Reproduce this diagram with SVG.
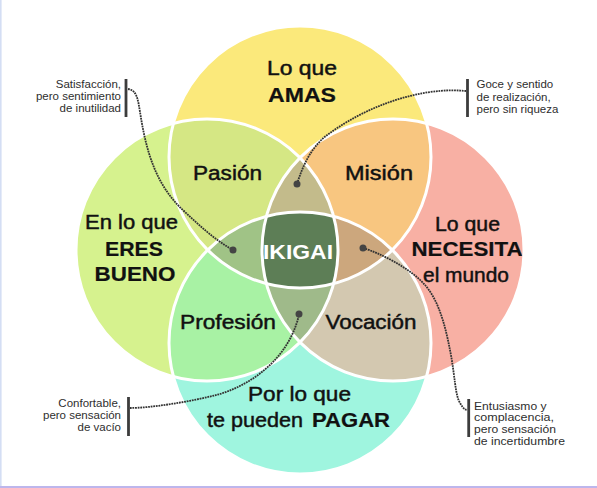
<svg xmlns="http://www.w3.org/2000/svg" width="597" height="488" viewBox="0 0 597 488">
<style>
.lbl{font-family:"Liberation Sans",Arial,sans-serif;font-size:20px;fill:#111;stroke:#111;stroke-width:0.45;text-anchor:middle}
.bold{font-weight:bold;stroke-width:0.2}
.ik{font-family:"Liberation Sans",Arial,sans-serif;font-size:21px;font-weight:bold;fill:#fff;text-anchor:middle}
.note{font-family:"Liberation Sans",Arial,sans-serif;font-size:11.5px;fill:#2e2e2e}
.sm{font-size:10.5px}
.bar{stroke:#3c3c3c;stroke-width:2.8}
.conn{fill:none;stroke:#333;stroke-width:1.8;stroke-dasharray:1.8 0.8}
.dot{fill:#444}
.ring{fill:none;stroke:#fff;stroke-width:3}
</style>
<defs>
<clipPath id="cT"><circle cx="300" cy="157" r="131"/></clipPath>
<clipPath id="cL"><circle cx="207" cy="250" r="131"/></clipPath>
<clipPath id="cR"><circle cx="393" cy="250" r="131"/></clipPath>
<clipPath id="cB"><circle cx="300" cy="343" r="131"/></clipPath>
</defs>
<rect width="597" height="488" fill="#fff"/>
<line x1="0.8" y1="0" x2="0.8" y2="488" stroke="#d4def4" stroke-width="1.6"/>
<line x1="0" y1="487" x2="597" y2="487" stroke="#bdb6ec" stroke-width="2"/>

<g id="love">
<circle cx="300" cy="157" r="131" fill="#fbe97b"/>
<text class="lbl" x="302" y="75" textLength="70" lengthAdjust="spacingAndGlyphs">Lo que</text>
<text class="lbl bold" x="302" y="102" textLength="68" lengthAdjust="spacingAndGlyphs">AMAS</text>
</g>
<g id="good">
<circle cx="207" cy="250" r="131" fill="#d6f28e"/>
<text class="lbl" x="131.5" y="229" textLength="93" lengthAdjust="spacingAndGlyphs">En lo que</text>
<text class="lbl bold" x="134" y="256" textLength="58" lengthAdjust="spacingAndGlyphs">ERES</text>
<text class="lbl bold" x="135" y="281" textLength="81" lengthAdjust="spacingAndGlyphs">BUENO</text>
</g>
<g id="needs">
<circle cx="393" cy="250" r="131" fill="#f8b0a4"/>
<text class="lbl" x="467.5" y="231" textLength="65" lengthAdjust="spacingAndGlyphs">Lo que</text>
<text class="lbl bold" x="467" y="256" textLength="111" lengthAdjust="spacingAndGlyphs">NECESITA</text>
<text class="lbl" x="466" y="282" textLength="86" lengthAdjust="spacingAndGlyphs">el mundo</text>
</g>
<g id="paid">
<circle cx="300" cy="343" r="131" fill="#9ff5df"/>
<text class="lbl" x="299.5" y="401" textLength="103" lengthAdjust="spacingAndGlyphs">Por lo que</text>
<text class="lbl" x="207" y="427" style="text-anchor:start" textLength="96" lengthAdjust="spacingAndGlyphs">te pueden</text>
<text class="lbl bold" x="312" y="427" style="text-anchor:start" textLength="78" lengthAdjust="spacingAndGlyphs">PAGAR</text>
</g>

<g id="pasion">
<circle cx="207" cy="250" r="131" fill="#d5e784" clip-path="url(#cT)"/>
<text class="lbl" x="227.5" y="180" textLength="69" lengthAdjust="spacingAndGlyphs">Pasión</text>
</g>
<g id="mision">
<circle cx="393" cy="250" r="131" fill="#f8c680" clip-path="url(#cT)"/>
<text class="lbl" x="379" y="180" textLength="68" lengthAdjust="spacingAndGlyphs">Misión</text>
</g>
<g id="profesion">
<circle cx="207" cy="250" r="131" fill="#a8f2a4" clip-path="url(#cB)"/>
<text class="lbl" x="228" y="329" textLength="96" lengthAdjust="spacingAndGlyphs">Profesión</text>
</g>
<g id="vocacion">
<circle cx="393" cy="250" r="131" fill="#d3c8b0" clip-path="url(#cB)"/>
<text class="lbl" x="371" y="329" textLength="91" lengthAdjust="spacingAndGlyphs">Vocación</text>
</g>

<g id="lens-top" clip-path="url(#cT)"><g clip-path="url(#cL)"><circle cx="393" cy="250" r="131" fill="#c3bb8b"/></g></g>
<g id="lens-left" clip-path="url(#cT)"><g clip-path="url(#cL)"><circle cx="300" cy="343" r="131" fill="#a0c386"/></g></g>
<g id="lens-right" clip-path="url(#cT)"><g clip-path="url(#cR)"><circle cx="300" cy="343" r="131" fill="#cca77d"/></g></g>
<g id="lens-bottom" clip-path="url(#cL)"><g clip-path="url(#cR)"><circle cx="300" cy="343" r="131" fill="#9fba8a"/></g></g>
<g id="ikigai">
<g clip-path="url(#cT)"><g clip-path="url(#cL)"><g clip-path="url(#cR)"><circle cx="300" cy="343" r="131" fill="#5d7e56"/></g></g></g>
</g>

<g id="outlines">
<circle class="ring" cx="300" cy="157" r="131"/>
<circle class="ring" cx="207" cy="250" r="131"/>
<circle class="ring" cx="393" cy="250" r="131"/>
<circle class="ring" cx="300" cy="343" r="131"/>
</g>
<g id="ikigai-label"><text class="ik" x="298" y="259" textLength="70" lengthAdjust="spacingAndGlyphs">IKIGAI</text></g>

<g id="note-tl">
<line class="bar" x1="126" y1="79" x2="126" y2="117"/>
<text class="note" x="121" y="87.5" text-anchor="end">Satisfacción,</text>
<text class="note" x="121" y="99.7" text-anchor="end">pero sentimiento</text>
<text class="note" x="121" y="111.9" text-anchor="end">de inutilidad</text>
</g>
<g id="note-tr">
<line class="bar" x1="467.5" y1="79" x2="467.5" y2="117"/>
<text class="note" x="476.5" y="88.3">Goce y sentido</text>
<text class="note" x="476.5" y="100.5">de realización,</text>
<text class="note" x="476.5" y="112.7">pero sin riqueza</text>
</g>
<g id="note-bl">
<line class="bar" x1="128.5" y1="397" x2="128.5" y2="436"/>
<text class="note" x="121" y="407.3" text-anchor="end">Confortable,</text>
<text class="note" x="121" y="419.3" text-anchor="end">pero sensación</text>
<text class="note" x="121" y="431" text-anchor="end">de vacío</text>
</g>
<g id="note-br">
<line class="bar" x1="468.7" y1="399" x2="468.7" y2="437"/>
<text class="note sm" x="474" y="409.5" textLength="72.5" lengthAdjust="spacingAndGlyphs">Entusiasmo y</text>
<text class="note sm" x="474" y="421.3" textLength="80" lengthAdjust="spacingAndGlyphs">complacencia,</text>
<text class="note sm" x="474" y="433.1" textLength="82" lengthAdjust="spacingAndGlyphs">pero sensación</text>
<text class="note sm" x="474" y="444.9" textLength="91" lengthAdjust="spacingAndGlyphs">de incertidumbre</text>
</g>

<g id="connectors">
<path class="conn" d="M128,89 C137,90 138,100 140,112 C146,150 155,185 185,212 C200,226 215,240 233,250"/>
<circle class="dot" cx="233" cy="250" r="3.5"/>
<path class="conn" d="M297,184 C303,165 312,145 330,133 C355,115 390,98 430,92 C445,90 455,90 466,91"/>
<circle class="dot" cx="297" cy="184" r="3.5"/>
<path class="conn" d="M130,408 C150,408 190,402 220,394 C255,383 280,360 292,335 C296,326 298,320 299,314"/>
<circle class="dot" cx="299" cy="314" r="3.5"/>
<path class="conn" d="M363,248 C380,253 410,268 425,285 C440,302 446,330 450,350 C455,375 455,395 460,403 C463,408 465,410 467,410"/>
<circle class="dot" cx="363" cy="248" r="3.5"/>
</g>
</svg>
